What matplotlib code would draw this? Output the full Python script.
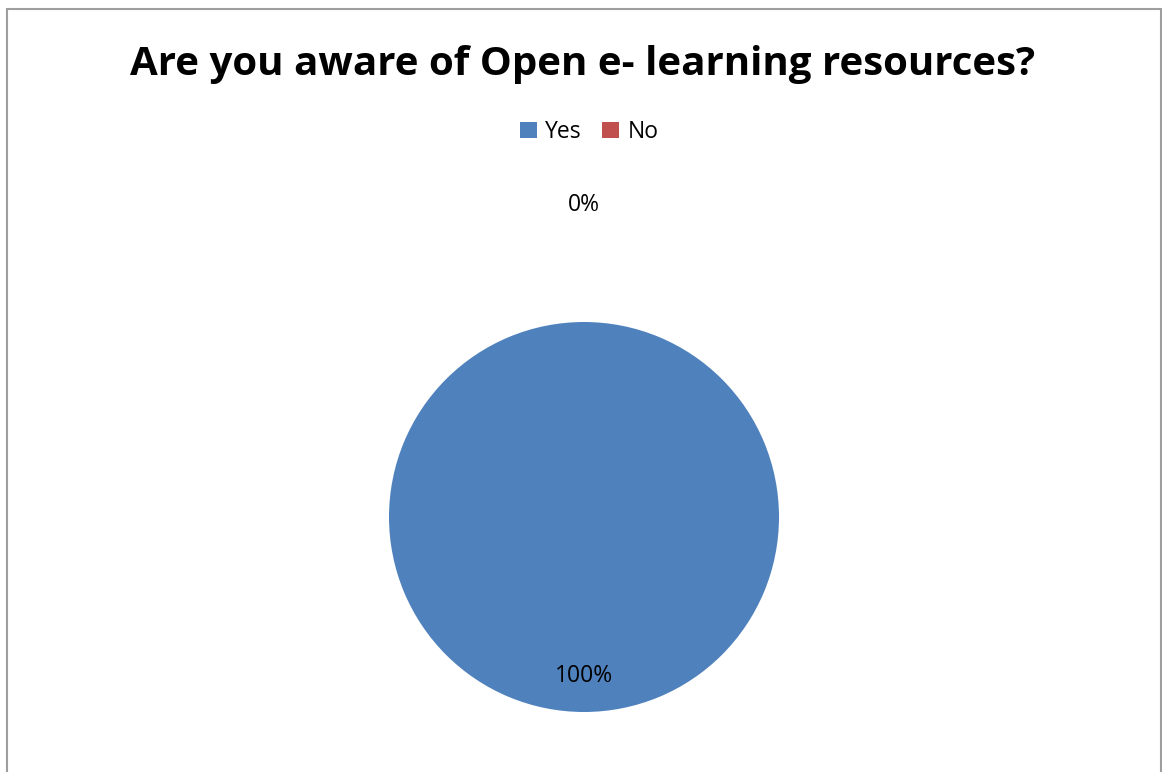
import matplotlib
matplotlib.use("Agg")
import matplotlib.pyplot as plt
from matplotlib.patches import Rectangle, Patch
import numpy as np

title = "Are you aware of Open e- learning resources?"
categories = ["Yes", "No"]
values = [100, 0]
colors = ["#4F81BD", "#C0504D"]

W, H = 1162, 772
fig = plt.figure(figsize=(W / 100, H / 100), dpi=100)
fig.patch.set_facecolor("white")

# outer chart border (bottom edge cut off)
fig.add_artist(Rectangle((7 / W, -0.05), (1161 - 7) / W, (H - 9) / H + 0.05,
                         transform=fig.transFigure, fill=False,
                         edgecolor="#9E9E9E", linewidth=1.5))

cx, cy, r = 584, 517, 195
ax = fig.add_axes([(cx - r) / W, (H - cy - r) / H, 2 * r / W, 2 * r / H])
wedges, texts, autotexts = ax.pie(values, colors=colors, startangle=90,
                                  counterclock=False, radius=1,
                                  autopct=lambda p: f"{p:.0f}%",
                                  pctdistance=0.815,
                                  wedgeprops=dict(linewidth=0),
                                  textprops=dict(fontsize=16.5, family="Open Sans"))
ax.set_xlim(-1, 1)
ax.set_ylim(-1, 1)
ax.set_aspect("equal")
ax.axis("off")

# move the zero-size slice label outside the pie
for w, t, v in zip(wedges, autotexts, values):
    if v == 0:
        ang = np.deg2rad((w.theta1 + w.theta2) / 2)
        t.set_position((1.6 * np.cos(ang), 1.6 * np.sin(ang)))
        t.set_clip_on(False)

fig.text(583 / W, 1 - 65 / H, title, ha="center", va="center",
         fontsize=29, fontweight="bold", family="Open Sans")

handles = [Patch(facecolor=c, edgecolor="none") for c in colors]
fig.legend(handles, categories, loc="center", bbox_to_anchor=(589 / W, 1 - 132 / H),
           ncol=2, frameon=False, handlelength=0.75, handleheight=0.75,
           handletextpad=0.35, columnspacing=0.9, prop=dict(family="Open Sans", size=16.5))

fig.savefig("out.png", dpi=100)
